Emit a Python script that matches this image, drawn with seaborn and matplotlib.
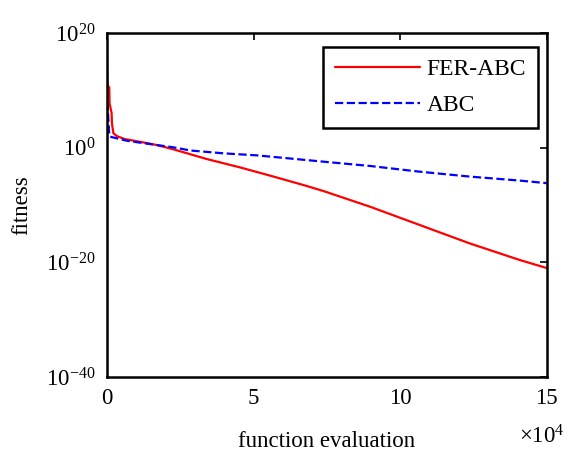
import numpy as np
import pandas as pd
import matplotlib
matplotlib.use("Agg")
import matplotlib.pyplot as plt
import matplotlib.ticker as mticker
import seaborn as sns

# function evaluations and log10(fitness)
fer_evals = [0, 150, 800, 900, 1600, 1700, 2200, 3400, 6000, 11400, 17000,
             22700, 34100, 45400, 56800, 68200, 74000, 89700, 106700,
             123700, 140800, 150000]
fer_log = [15.6, 10.9, 10.5, 7.7, 6.0, 4.25, 2.5, 2.0, 1.5, 1.0, 0.45,
           -0.3, -2.0, -3.45, -5.05, -6.7, -7.6, -10.3, -13.5,
           -16.7, -19.6, -21.0]

abc_evals = [0, 150, 800, 1100, 6800, 17000, 22700, 28400, 39800, 51100,
             62500, 73800, 89700, 106700, 123700, 140800, 150000]
abc_log = [12.1, 8.0, 2.2, 1.9, 1.2, 0.45, 0.05, -0.5, -1.0, -1.35,
           -1.9, -2.45, -3.2, -4.2, -5.05, -5.75, -6.2]

fer = pd.DataFrame({"evals": fer_evals, "fitness": np.power(10.0, fer_log)})
abc = pd.DataFrame({"evals": abc_evals, "fitness": np.power(10.0, abc_log)})

sns.set_style("white")
plt.rcParams["font.family"] = ["Liberation Serif", "DejaVu Serif"]
plt.rcParams["mathtext.fontset"] = "custom"
plt.rcParams["mathtext.rm"] = "Liberation Serif"
plt.rcParams["mathtext.it"] = "Liberation Serif:italic"
plt.rcParams["mathtext.bf"] = "Liberation Serif:bold"
plt.rcParams["text.color"] = "black"
plt.rcParams["axes.labelcolor"] = "black"
plt.rcParams["xtick.color"] = "black"
plt.rcParams["ytick.color"] = "black"

fig = plt.figure(figsize=(5.78, 4.57), dpi=100)
ax = fig.add_axes([0.185, 0.175, 0.761, 0.753])

sns.lineplot(data=fer, x="evals", y="fitness", ax=ax, color="red",
             linewidth=1.6, label="FER-ABC")
sns.lineplot(data=abc, x="evals", y="fitness", ax=ax, color="blue",
             linewidth=1.6, linestyle="--", dashes=(2.5, 1.3), label="ABC")

ax.set_yscale("log")
ax.set_xlim(0, 150000)
ax.set_ylim(1e-40, 1e20)
ax.set_yticks([1e-40, 1e-20, 1e0, 1e20])
ax.yaxis.set_minor_locator(mticker.NullLocator())
ax.yaxis.set_major_formatter(mticker.FuncFormatter(
    lambda v, p: r"$\mathregular{10^{%d}}$" % round(np.log10(v))))
ax.set_xticks([0, 50000, 100000, 150000])
ax.xaxis.set_major_formatter(mticker.FuncFormatter(lambda v, p: f"{v/1e4:g}"))

ax.tick_params(axis="both", direction="in", length=5, width=1.2,
               top=True, right=True, labelsize=16.5, pad=8)
for s in ax.spines.values():
    s.set_linewidth(1.8)
    s.set_color("black")

ax.set_xlabel("function evaluation", fontsize=16.5, labelpad=16)
ax.set_ylabel("fitness", fontsize=16.5, labelpad=10)
fig.text(0.937, 0.03, r"$\times\mathregular{10^4}$", fontsize=16.5, ha="center")

leg = ax.legend(loc="upper right", fontsize=17, frameon=True, fancybox=False,
                edgecolor="black", framealpha=1, handlelength=3.6,
                handletextpad=0.3, borderpad=0.5, labelspacing=0.6,
                borderaxespad=0, bbox_to_anchor=(0.98, 0.959))
leg.get_frame().set_linewidth(1.8)

fig.savefig("out.png", dpi=100)
